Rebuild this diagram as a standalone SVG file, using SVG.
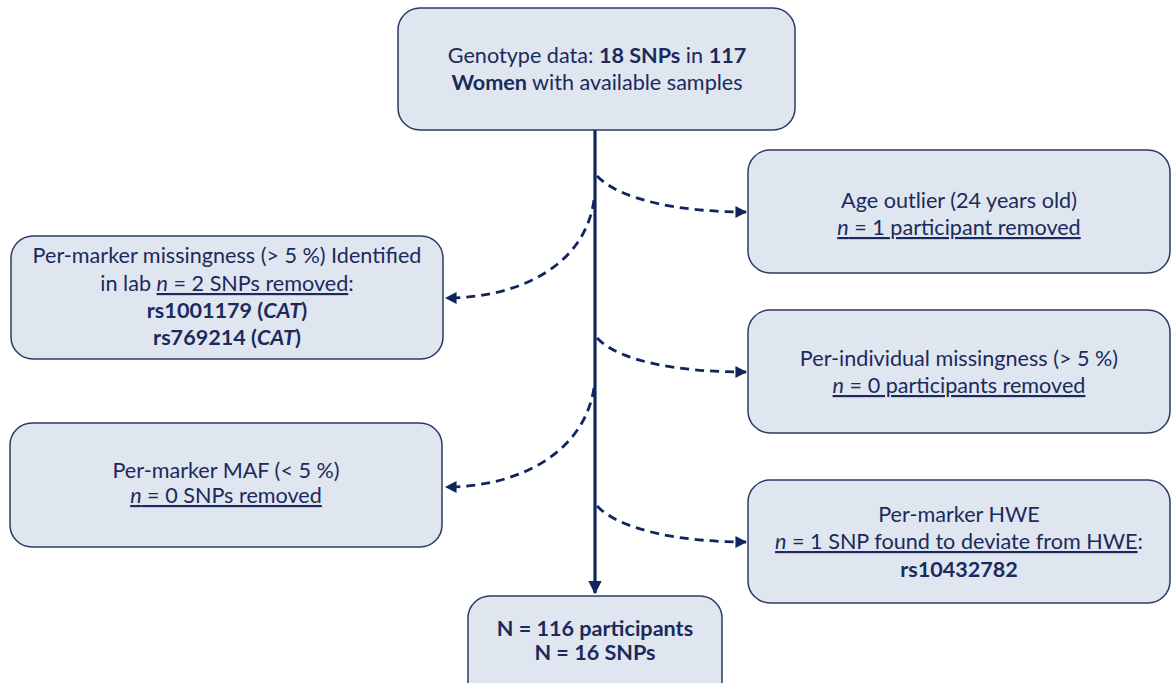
<svg xmlns="http://www.w3.org/2000/svg" width="1171" height="683" viewBox="0 0 1171 683">
<style>
.box{fill:#dfe6ef;stroke:#2b3b66;stroke-width:1.5}
text{font-family:Lato,"Liberation Sans",sans-serif;font-size:21.6px;fill:#1b2a5c;text-anchor:middle}
.b{font-weight:bold}
.i{font-style:italic}
.u{text-decoration:underline}
.main{stroke:#10245e;stroke-width:3.2;fill:none}
.dash{stroke:#10245e;stroke-width:2.8;fill:none;stroke-dasharray:9 6}
</style>
<defs>
<marker id="ah" viewBox="0 0 10 10" refX="9" refY="5" markerWidth="4.2" markerHeight="4.2" orient="auto" markerUnits="strokeWidth">
<path d="M0,0L10,5L0,10z" fill="#10245e"/>
</marker>
</defs>
<g id="connectors">
<path class="main" d="M595,130V593" marker-end="url(#ah)"/>
<path class="dash" d="M597,176C620,200 680,212 746,212" marker-end="url(#ah)"/>
<path class="dash" d="M594,200C585,265 520,298 446,298" marker-end="url(#ah)"/>
<path class="dash" d="M597,338C620,362 680,372 746,372" marker-end="url(#ah)"/>
<path class="dash" d="M594,388C584,452 520,487 446,487" marker-end="url(#ah)"/>
<path class="dash" d="M597,506C620,530 680,542 746,542" marker-end="url(#ah)"/>
</g>
<g id="genotype">
<rect class="box" x="398" y="8" width="397" height="122" rx="22"/>
<text x="597" y="63">Genotype data: <tspan class="b">18 SNPs</tspan> in <tspan class="b">117</tspan></text>
<text x="597" y="90"><tspan class="b">Women</tspan> with available samples</text>
</g>
<g id="age">
<rect class="box" x="748" y="150" width="422" height="123" rx="22"/>
<text x="959" y="208">Age outlier (24 years old)</text>
<text x="959" y="235" class="u"><tspan class="i">n</tspan> = 1 participant removed</text>
</g>
<g id="markermiss">
<rect class="box" x="11" y="236" width="432" height="123" rx="22"/>
<text x="227" y="263">Per-marker missingness (&gt; 5 %) Identified</text>
<text x="227" y="291">in lab <tspan class="u"><tspan class="i">n</tspan> = 2 SNPs removed</tspan>:</text>
<text x="227" y="318" class="b">rs1001179 (<tspan class="i">CAT</tspan>)</text>
<text x="227" y="345" class="b">rs769214 (<tspan class="i">CAT</tspan>)</text>
</g>
<g id="indivmiss">
<rect class="box" x="748" y="310" width="422" height="123" rx="22"/>
<text x="959" y="366">Per-individual missingness (&gt; 5 %)</text>
<text x="959" y="393" class="u"><tspan class="i">n</tspan> = 0 participants removed</text>
</g>
<g id="maf">
<rect class="box" x="10" y="423" width="432" height="124" rx="22"/>
<text x="226" y="478">Per-marker MAF (&lt; 5 %)</text>
<text x="226" y="503" class="u"><tspan class="i">n</tspan> = 0 SNPs removed</text>
</g>
<g id="hwe">
<rect class="box" x="748" y="480" width="422" height="123" rx="22"/>
<text x="959" y="522">Per-marker HWE</text>
<text x="959" y="549"><tspan class="u"><tspan class="i">n</tspan> = 1 SNP found to deviate from HWE</tspan>:</text>
<text x="959" y="577" class="b">rs10432782</text>
</g>
<g id="result">
<rect class="box" x="468" y="596" width="254" height="110" rx="22"/>
<text x="595" y="636" class="b">N = 116 participants</text>
<text x="595" y="660" class="b">N = 16 SNPs</text>
</g>
</svg>
